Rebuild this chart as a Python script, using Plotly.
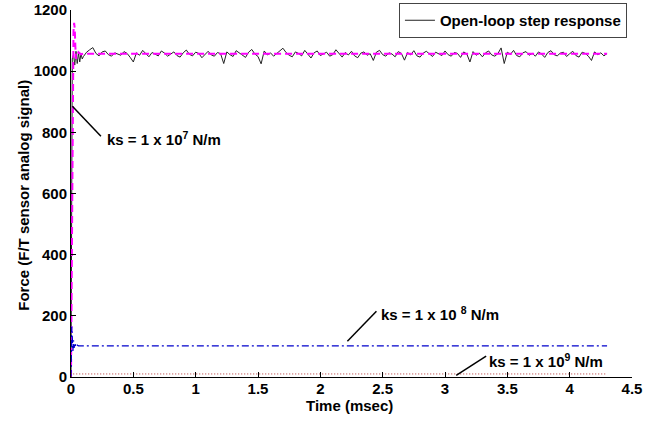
import numpy as np
import plotly.graph_objects as go

# Open-loop step response (black, noisy)
t_open_start = [0, 0.005, 0.01, 0.02, 0.03, 0.04, 0.05, 0.06, 0.07, 0.08, 0.09]
f_open_start = [0, 600, 1040, 1055, 1020, 1065, 1025, 1060, 1030, 1058, 1040]
t_open_step = 0.025
f_open_rest = [
    1048, 1062, 1070, 1077, 1058, 1050, 1063, 1066, 1054, 1049, 1060, 1057, 1052,
    1064, 1058, 1045, 1030, 1060, 1052, 1068, 1056, 1047, 1061, 1055, 1050, 1066,
    1059, 1049, 1057, 1063, 1051, 1046, 1060, 1069, 1055, 1050, 1062, 1058, 1044,
    1056, 1065, 1053, 1049, 1061, 1057, 1025, 1063, 1054, 1048, 1067, 1059, 1051,
    1045, 1062, 1071, 1056, 1048, 1024, 1066, 1053, 1060, 1049, 1058, 1064, 1075,
    1061, 1052, 1047, 1063, 1058, 1050, 1068, 1055, 1043, 1060, 1066, 1051, 1057,
    1062, 1049, 1054, 1070, 1058, 1046, 1061, 1053, 1065, 1050, 1044, 1059, 1063,
    1052, 1057, 1035, 1062, 1068, 1054, 1049, 1060, 1056, 1047, 1064, 1058, 1036,
    1061, 1053, 1067, 1050, 1046, 1059, 1065, 1055, 1048, 1062, 1057, 1051, 1066,
    1054, 1049, 1061, 1058, 1045, 1063, 1056, 1030, 1064, 1052, 1059, 1047, 1060,
    1066, 1053, 1049, 1058, 1076, 1025, 1062, 1055, 1068, 1051, 1047, 1060, 1064,
    1052, 1058, 1049, 1063, 1056, 1045, 1061, 1067, 1054, 1050, 1059, 1062, 1048,
    1057, 1065, 1051, 1046, 1062, 1058, 1049, 1035, 1063, 1054, 1060, 1050, 1058,
]

# ks = 1e7 (magenta dashed)
t_k7 = [0, 0.005, 0.01, 0.015, 0.02, 0.025, 0.03, 0.035, 0.04, 0.05, 0.06, 0.08, 0.1, 4.3]
f_k7 = [0, 300, 700, 1000, 1130, 1158, 1140, 1080, 1040, 1050, 1062, 1055, 1057, 1057]

# ks = 1e8 (blue dash-dot)
t_k8 = [0, 0.003, 0.006, 0.01, 0.015, 0.02, 0.025, 0.03, 0.04, 0.05, 0.06, 4.3]
f_k8 = [0, 120, 165, 130, 85, 120, 95, 112, 98, 104, 102, 102]

# ks = 1e9 (red dotted)
t_k9 = [0, 0.002, 0.005, 4.3]
f_k9 = [0, 12, 10, 10]

x_ticks = [0, 0.5, 1, 1.5, 2, 2.5, 3, 3.5, 4, 4.5]
x_tick_labels = ["0", "0.5", "1", "1.5", "2", "2.5", "3", "3.5", "4", "4.5"]
y_ticks = [0, 200, 400, 600, 800, 1000, 1200]

t_open_rest = [round(0.1 + t_open_step * i, 4) for i in range(len(f_open_rest))]
t_open = t_open_start + t_open_rest
f_open = f_open_start + f_open_rest

FONT = "Liberation Sans, Arial, sans-serif"
BOLD15 = dict(family=FONT, size=15, color="black", weight="bold")

fig = go.Figure()
fig.add_trace(go.Scatter(x=t_open, y=f_open, mode="lines", name="Open-loop step response",
                         line=dict(color="#222222", width=1)))
fig.add_trace(go.Scatter(x=t_k7, y=f_k7, mode="lines", showlegend=False,
                         line=dict(color="#ff00ff", width=2, dash="7px,4px")))
fig.add_trace(go.Scatter(x=t_k8, y=f_k8, mode="lines", showlegend=False,
                         line=dict(color="#0000cc", width=1.3, dash="7px,3px,2px,3px")))
fig.add_trace(go.Scatter(x=t_k9, y=f_k9, mode="lines", showlegend=False,
                         line=dict(color="#b03030", width=1, dash="1px,2px")))

# annotation leader lines
lines = [
    (0.011, 885, 0.24, 787),
    (2.217, 117, 2.45, 215),
    (3.09, 5, 3.33, 68),
]
for x0, y0, x1, y1 in lines:
    fig.add_shape(type="line", x0=x0, y0=y0, x1=x1, y1=y1, xref="x", yref="y",
                  line=dict(color="black", width=1.5))

labels = [
    (0.27, 781, "ks = 1 x 10<sup>7</sup> N/m"),
    (2.47, 208, "ks = 1 x 10 <sup>8</sup> N/m"),
    (3.34, 55, "ks = 1 x 10<sup>9</sup> N/m"),
]
for x, y, txt in labels:
    fig.add_annotation(x=x, y=y, text=txt, showarrow=False, xanchor="left", yanchor="middle",
                       font=BOLD15)

# axis titles as paper annotations
fig.add_annotation(x=0.497, y=-0.075, xref="paper", yref="paper", text="Time (msec)",
                   showarrow=False, xanchor="center", yanchor="middle", font=BOLD15)
fig.add_annotation(x=-0.084, y=0.487, xref="paper", yref="paper",
                   text="Force (F/T sensor analog signal)", textangle=-90,
                   showarrow=False, xanchor="center", yanchor="middle", font=BOLD15)

fig.update_layout(
    width=660, height=421,
    margin=dict(l=71, r=28, t=3, b=44),
    paper_bgcolor="white", plot_bgcolor="white",
    showlegend=True,
    legend=dict(x=0.991, y=1.0, xanchor="right", yanchor="top",
                bordercolor="#444", borderwidth=1, bgcolor="white",
                font=BOLD15, itemwidth=30, tracegroupgap=0),
)
fig.update_xaxes(range=[0, 4.5], tickvals=x_ticks, ticktext=x_tick_labels,
                 ticks="inside", ticklen=5, tickcolor="black", automargin=False,
                 ticklabelstandoff=-2,
                 showline=True, linecolor="black", linewidth=1, showgrid=False, zeroline=False,
                 tickfont=BOLD15)
fig.update_yaxes(range=[0, 1200], tickvals=y_ticks, domain=[0, 367 / 374],
                 ticks="inside", ticklen=5, tickcolor="black", automargin=False,
                 showline=True, linecolor="black", linewidth=1, showgrid=False, zeroline=False,
                 tickfont=BOLD15)

fig.write_html("out.html", config={"displayModeBar": False},
               post_script="document.body.style.margin='0';document.body.style.overflow='hidden';")
